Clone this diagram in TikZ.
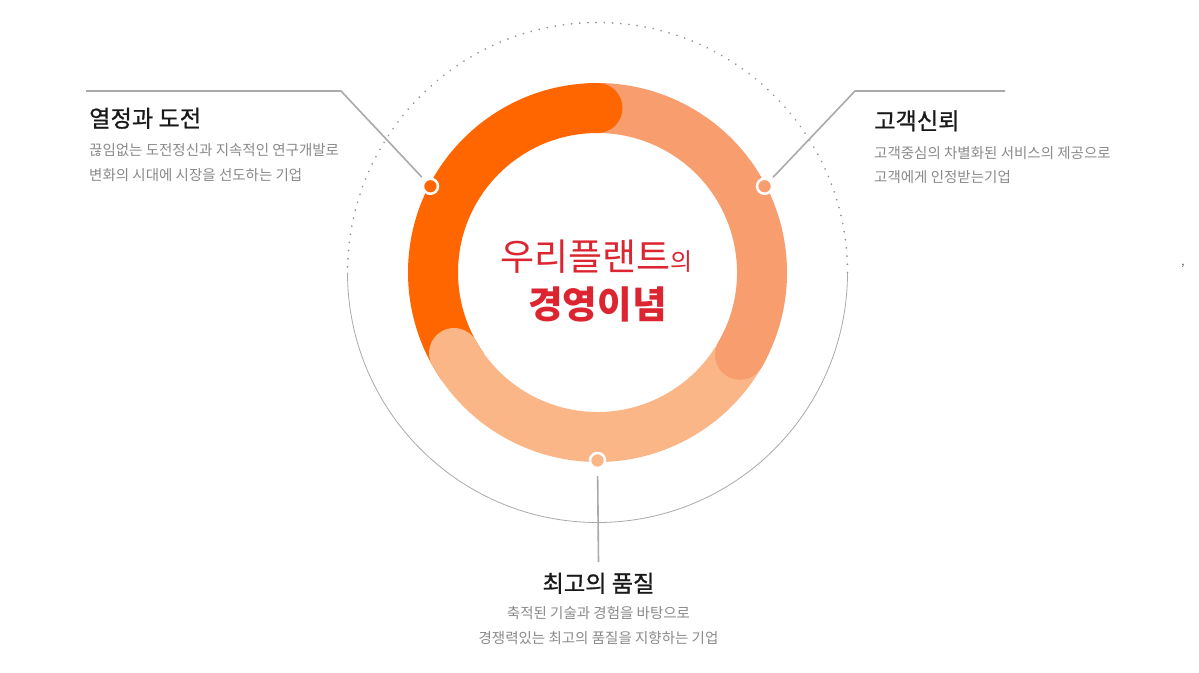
\documentclass[tikz,border=0pt]{standalone}
\usepackage{fontspec}
\newfontfamily\krfont{Noto Sans CJK KR}
\newfontfamily\krmedium[FakeBold=0.8]{Noto Sans CJK KR}
\usetikzlibrary{calc}

\definecolor{orangeA}{HTML}{FF6600}
\definecolor{salmonB}{HTML}{F89D6E}
\definecolor{peachC}{HTML}{FBB687}
\definecolor{titleRed}{HTML}{DC2530}
\definecolor{leaderGray}{HTML}{AAAAAA}
\definecolor{subGray}{HTML}{8A8A8A}

\tikzset{
  ringarc/.style={line width=50pt},
  dotmark/.style={circle, draw=white, line width=2.5pt, minimum size=15pt, inner sep=0pt, outer sep=5pt},
  leader/.style={draw=leaderGray, line width=1.6pt},
  headtext/.style={inner sep=0pt, text=black!90, font=\krmedium\fontsize{23.2}{26}\selectfont},
  subtext/.style={inner sep=0pt, text=subGray, font=\krfont\fontsize{14.5}{17}\selectfont}
}

\begin{document}
\begin{tikzpicture}[x=1pt, y=1pt]
    \def\ringR{164.5}
    \def\outerR{250}
    \def\dotR{188}

    \useasboundingbox[fill=white] (0,0) rectangle (1199,-672);
    \coordinate (C) at (597.5,-272.5);

    % Draw outer guide circle
    \draw[gray!85, line width=1.9pt, dash pattern=on 0.01pt off 8.2pt, line cap=round]
        ($(C)+(0:\outerR)$) arc[start angle=0, end angle=180, radius=\outerR];
    \draw[leaderGray, line width=0.8pt]
        ($(C)+(180:\outerR)$) arc[start angle=180, end angle=360, radius=\outerR];

    % Draw ring segments
    \draw[ringarc, orangeA, line cap=butt]
        ($(C)+(90:\ringR)$) arc[start angle=90, end angle=215, radius=\ringR];
    \draw[ringarc, peachC, line cap=round]
        ($(C)+(209.3:\ringR)$) arc[start angle=209.3, end angle=335, radius=\ringR];
    \draw[ringarc, salmonB, line cap=butt]
        ($(C)+(-30:\ringR)$) arc[start angle=-30, end angle=90, radius=\ringR];
    \fill[salmonB] ($(C)+(-30:\ringR)$) circle[radius=25];
    \fill[orangeA] ($(C)+(90:\ringR)$) circle[radius=25];

    % Centre title
    \node[inner sep=0pt, anchor=base, text=titleRed] (titleA) at (596.7,-270)
        {\krfont\fontsize{37}{42}\selectfont 우리플랜트\fontsize{24}{27}\selectfont 의};
    \node[inner sep=0pt, anchor=base, text=titleRed] (titleB) at (597.5,-318.5)
        {\krfont\bfseries\fontsize{37.6}{42}\selectfont 경영이념};

    % Marker dots on the ring
    \node[dotmark, fill=orangeA] (dotL) at ($(C)+(152.7:\dotR)$) {};
    \node[dotmark, fill=salmonB] (dotR) at ($(C)+(27.3:\dotR)$) {};
    \node[dotmark, fill=peachC] (dotB) at ($(C)+(270:\dotR)$) {};

    % Leader lines
    \coordinate (kneeL) at (341,-91);
    \coordinate (endL) at (86,-91);
    \coordinate (kneeR) at (855,-91);
    \coordinate (endR) at (1005,-91);
    \coordinate (tipB) at (598.5,-562);
    \draw[leader] (dotL) -- (kneeL) -- (endL);
    \draw[leader] (dotR) -- (kneeR) -- (endR);
    \draw[leader, shorten <=3pt] (dotB) -- (tipB);

    % Left block
    \node[headtext, anchor=base west] (headL) at (89,-127) {열정과 도전};
    \node[subtext, anchor=base west] (subL1) at (89,-155.5) {끊임없는 도전정신과 지속적인 연구개발로};
    \node[subtext, anchor=base west] (subL2) at (89,-180.5) {변화의 시대에 시장을 선도하는 기업};

    % Right block
    \node[headtext, anchor=base west] (headR) at (874,-129.5) {고객신뢰};
    \node[subtext, anchor=base west] (subR1) at (874,-158) {고객중심의 차별화된 서비스의 제공으로};
    \node[subtext, anchor=base west] (subR2) at (874,-182) {고객에게 인정받는기업};

    % Bottom block
    \node[headtext, anchor=base] (headB) at (598.5,-592) {최고의 품질};
    \node[subtext, anchor=base] (subB1) at (598.5,-618) {축적된 기술과 경험을 바탕으로};
    \node[subtext, anchor=base] (subB2) at (598.5,-643) {경쟁력있는 최고의 품질을 지향하는 기업};

    % Stray mark on the right
    \node[inner sep=0pt, text=black!70, font=\krfont\fontsize{11}{12}\selectfont] (comma) at (1183,-266) {,};
\end{tikzpicture}
\end{document}
